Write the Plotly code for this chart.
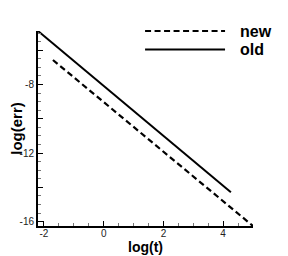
import plotly.graph_objects as go

# data
old_x = [-2.2, 4.26]
old_y = [-4.88, -14.28]
new_x = [-1.7, 5.0]
new_y = [-6.57, -16.25]

x_ticks = [-2, 0, 2, 4]
x_labels = ["-2", "0", "2", "4"]
y_ticks = [-16, -14, -12, -10, -8, -6]
y_labels = ["-16", "", "-12", "", "-8", ""]

FONT = "Liberation Sans, Arial, Helvetica, sans-serif"

fig = go.Figure()
fig.add_trace(go.Scatter(x=old_x, y=old_y, mode="lines", name="old",
                         line=dict(color="black", width=2), cliponaxis=False))
fig.add_trace(go.Scatter(x=new_x, y=new_y, mode="lines", name="new",
                         line=dict(color="black", width=2.2, dash="6px,3.5px"),
                         cliponaxis=False))

axis_common = dict(showline=True, linecolor="black", linewidth=2, mirror=False,
                   showgrid=False, zeroline=False, ticks="inside", ticklen=5,
                   tickwidth=1, tickcolor="black", automargin=False,
                   tickfont=dict(family=FONT, size=10, color="#222"))

fig.update_xaxes(range=[-2.2, 5.0], tickvals=x_ticks, ticktext=x_labels,
                 minor=dict(dtick=0.5, ticks="inside", ticklen=3, tickcolor="#777", tick0=0),
                 ticklabelstandoff=-3,
                 **axis_common)
fig.update_yaxes(range=[-16.25, -4.88], tickvals=y_ticks, ticktext=y_labels,
                 minor=dict(dtick=0.5, ticks="inside", ticklen=3, tickcolor="#777", tick0=0),
                 title=dict(text="log(err)", font=dict(family=FONT, size=15, color="black", weight="bold"),
                            standoff=2),
                 **axis_common)

# x-axis title placed close to the tick labels, as in the original
fig.add_annotation(text="log(t)", xref="paper", yref="paper", x=0.5, y=-0.11,
                   xanchor="center", yanchor="middle", showarrow=False, borderpad=0,
                   font=dict(family=FONT, size=14, color="black", weight="bold"))

# manual legend (long line samples like the original)
legend_items = [("new", "6px,3.5px", 1.0), ("old", "solid", 0.905)]
for label, dash, yp in legend_items:
    fig.add_shape(type="line", xref="paper", yref="paper", x0=0.498, x1=0.87, y0=yp, y1=yp,
                  line=dict(color="black", width=2, dash=dash))
    fig.add_annotation(text=label, xref="paper", yref="paper", x=0.93, y=yp,
                       xanchor="left", yanchor="middle", showarrow=False,
                       font=dict(family=FONT, size=16, color="black", weight="bold"))

fig.update_layout(width=288, height=256, showlegend=False,
                  margin=dict(l=30, r=43, t=23, b=38),
                  paper_bgcolor="white", plot_bgcolor="white")

fig.write_html("out.html")
